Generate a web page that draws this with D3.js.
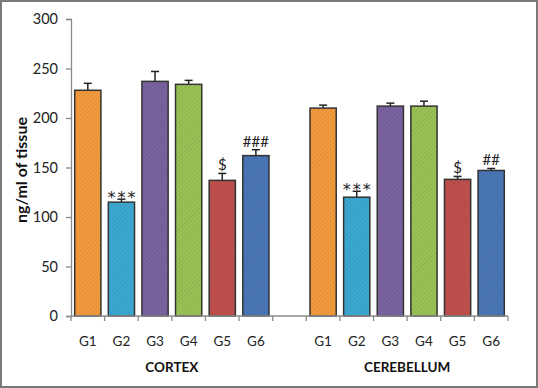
<!DOCTYPE html>
<html>
<head>
<meta charset="utf-8">
<script src="https://cdn.jsdelivr.net/npm/d3@7"></script>
<style>
body { margin: 0; background: #fff; }
svg text { font-family: Lato, "Open Sans", sans-serif; }
</style>
</head>
<body>
<div id="chart"></div>
<script>
// data
var groups = ["G1", "G2", "G3", "G4", "G5", "G6"];
var regions = ["CORTEX", "CEREBELLUM"];
var cortex_means = [228, 115, 237, 234, 137, 162];
var cortex_errors = [7, 3, 10, 4, 7, 6];
var cerebellum_means = [210, 120, 212, 212, 138, 147];
var cerebellum_errors = [3, 6, 3, 5, 3, 2];
var cortex_marks = ["", "***", "", "", "$", "###"];
var cerebellum_marks = ["", "***", "", "", "$", "##"];
var bar_colors = ["#f39a3c", "#3ba9d2", "#7b62a0", "#9ac256", "#c0504d", "#4a76b8"];
var y_ticks = [0, 50, 100, 150, 200, 250, 300];

var width = 538, height = 388;
var margin = { left: 71, right: 30, top: 19, bottom: 72 };

var svg = d3.select("#chart").append("svg")
    .attr("width", width)
    .attr("height", height);

// hatch patterns
var defs = svg.append("defs");
bar_colors.forEach(function (c, i) {
    var p = defs.append("pattern")
        .attr("id", "hatch" + i)
        .attr("patternUnits", "userSpaceOnUse")
        .attr("width", 3)
        .attr("height", 3)
        .attr("patternTransform", "rotate(45)");
    p.append("rect").attr("width", 3).attr("height", 3).attr("fill", c);
    p.append("line")
        .attr("x1", 0).attr("y1", 0).attr("x2", 0).attr("y2", 3)
        .attr("stroke", d3.color(c).darker(0.5))
        .attr("stroke-width", 1);
});

// frame
svg.append("rect")
    .attr("x", 1).attr("y", 1)
    .attr("width", width - 2).attr("height", height - 2)
    .attr("fill", "none")
    .attr("stroke", "#7a7a7a")
    .attr("stroke-width", 2);

// 13 slots: 6 groups, a gap, 6 groups
var slots = [];
groups.forEach(function (g, i) { slots.push("a" + i); });
slots.push("gap");
groups.forEach(function (g, i) { slots.push("b" + i); });

var x = d3.scaleBand()
    .domain(slots)
    .range([margin.left, 508])
    .paddingInner(0.22)
    .paddingOuter(0.11);

var y = d3.scaleLinear()
    .domain([0, 300])
    .range([316, margin.top]);

var bars = [];
groups.forEach(function (g, i) {
    bars.push({ slot: "a" + i, label: g, v: cortex_means[i], e: cortex_errors[i], mark: cortex_marks[i], ci: i });
});
groups.forEach(function (g, i) {
    bars.push({ slot: "b" + i, label: g, v: cerebellum_means[i], e: cerebellum_errors[i], mark: cerebellum_marks[i], ci: i });
});

// y axis
var yAxis = svg.append("g")
    .attr("transform", "translate(" + margin.left + ",0)")
    .call(d3.axisLeft(y).tickValues(y_ticks).tickSize(5).tickPadding(8));
yAxis.select(".domain").attr("stroke", "#8a8a8a").attr("stroke-width", 1.3);
yAxis.selectAll(".tick line").attr("stroke", "#8a8a8a").attr("stroke-width", 1.3);
yAxis.selectAll("text").attr("font-size", 14.5).attr("fill", "#222");

// error bars (drawn behind the bars)
var errs = svg.append("g");
errs.selectAll("line.v").data(bars).enter().append("line")
    .attr("x1", function (d) { return x(d.slot) + x.bandwidth() / 2; })
    .attr("x2", function (d) { return x(d.slot) + x.bandwidth() / 2; })
    .attr("y1", function (d) { return y(d.v); })
    .attr("y2", function (d) { return y(d.v + d.e); })
    .attr("stroke", "#222").attr("stroke-width", 1.5);
errs.selectAll("line.h").data(bars).enter().append("line")
    .attr("x1", function (d) { return x(d.slot) + x.bandwidth() / 2 - 4; })
    .attr("x2", function (d) { return x(d.slot) + x.bandwidth() / 2 + 4; })
    .attr("y1", function (d) { return y(d.v + d.e); })
    .attr("y2", function (d) { return y(d.v + d.e); })
    .attr("stroke", "#222").attr("stroke-width", 1.5);

// bars
svg.append("g").selectAll("rect").data(bars).enter().append("rect")
    .attr("x", function (d) { return x(d.slot); })
    .attr("y", function (d) { return y(d.v); })
    .attr("width", x.bandwidth())
    .attr("height", function (d) { return y(0) - y(d.v); })
    .attr("fill", function (d) { return "url(#hatch" + d.ci + ")"; })
    .attr("stroke", "#333")
    .attr("stroke-width", 1.5);

// significance marks
var isStars = function (d) { return d.mark === "***"; };
svg.append("g").selectAll("text").data(bars.filter(function (d) { return d.mark; })).enter().append("text")
    .attr("x", function (d) { return x(d.slot) + x.bandwidth() / 2 + (isStars(d) ? 1 : 0); })
    .attr("y", function (d) { return y(d.v + d.e) - 3 + (isStars(d) ? 7 : 0); })
    .attr("text-anchor", "middle")
    .style("font-family", function (d) { return isStars(d) ? "'DejaVu Sans', sans-serif" : null; })
    .attr("font-size", function (d) { return isStars(d) ? 16 : 15; })
    .attr("letter-spacing", function (d) { return isStars(d) ? 2 : 0; })
    .attr("fill", "#222")
    .text(function (d) { return d.mark; });

// x axis line and slot ticks
var step = x.step();
var x0 = margin.left;
var xg = svg.append("g");
xg.append("line")
    .attr("x1", x0).attr("x2", 508)
    .attr("y1", y(0)).attr("y2", y(0))
    .attr("stroke", "#8a8a8a").attr("stroke-width", 1.3);
xg.selectAll("line.t").data(d3.range(slots.length + 1)).enter().append("line")
    .attr("x1", function (i) { return x0 + i * step; })
    .attr("x2", function (i) { return x0 + i * step; })
    .attr("y1", y(0)).attr("y2", y(0) + 5)
    .attr("stroke", "#8a8a8a").attr("stroke-width", 1.3);

// group labels
svg.append("g").selectAll("text").data(bars).enter().append("text")
    .attr("x", function (d) { return x(d.slot) + x.bandwidth() / 2; })
    .attr("y", 346)
    .attr("text-anchor", "middle")
    .attr("font-size", 13.5)
    .attr("fill", "#222")
    .text(function (d) { return d.label; });

// region labels
svg.append("g").selectAll("text").data(regions).enter().append("text")
    .attr("x", function (d, i) {
        var a = x(i === 0 ? "a0" : "b0"), b = x(i === 0 ? "a5" : "b5") + x.bandwidth();
        return (a + b) / 2;
    })
    .attr("y", 372)
    .attr("text-anchor", "middle")
    .attr("font-size", 13.5)
    .attr("font-weight", "bold")
    .attr("fill", "#111")
    .text(function (d) { return d; });

// y label
svg.append("text")
    .attr("transform", "translate(27,170) rotate(-90)")
    .attr("text-anchor", "middle")
    .attr("font-size", 16)
    .attr("font-weight", "bold")
    .attr("fill", "#111")
    .text("ng/ml of tissue");
</script>
</body>
</html>
